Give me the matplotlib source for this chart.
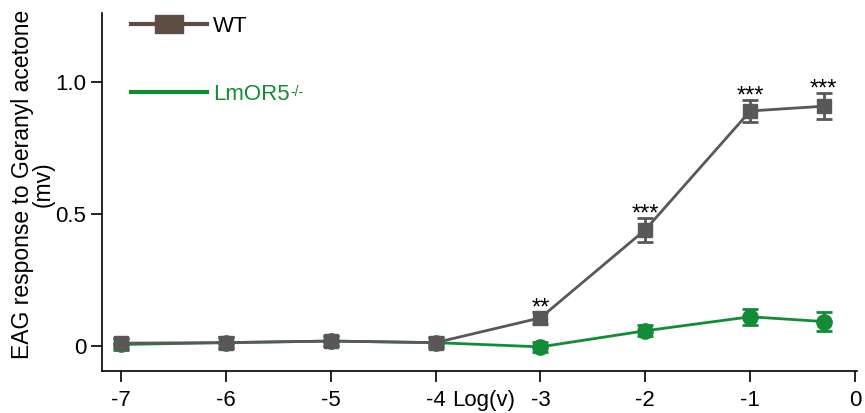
import matplotlib
matplotlib.use("Agg")
import matplotlib.pyplot as plt
from matplotlib.lines import Line2D
from matplotlib.path import Path
import numpy as np

plt.rcParams['font.family'] = ['Liberation Sans', 'DejaVu Sans']

# dose (log concentration) and EAG responses
dose = [-7, -6, -5, -4, -3, -2, -1, -0.3]
wt_mean = [0.010, 0.012, 0.018, 0.012, 0.106, 0.440, 0.890, 0.908]
wt_err = [0.020, 0.020, 0.018, 0.020, 0.022, 0.045, 0.042, 0.050]
ko_mean = [0.005, 0.012, 0.018, 0.012, -0.004, 0.057, 0.110, 0.092]
ko_err = [0.020, 0.020, 0.018, 0.018, 0.018, 0.020, 0.030, 0.035]
stars = ['', '', '', '', '**', '***', '***', '***']

x_ticks = [-7, -6, -5, -4, -3, -2, -1, 0]
y_ticks = [0, 0.5, 1.0]
y_ticklabels = ['0', '0.5', '1.0']

gray = '#595757'
brown = '#5e4d42'
green = '#138b37'

fig = plt.figure(figsize=(8.65, 4.13), dpi=100)
ax = fig.add_axes([0.118, 0.102, 0.873, 0.867])

ax.errorbar(dose, wt_mean, yerr=wt_err, color=gray, marker='s', markersize=10,
            lw=2, elinewidth=2, capsize=6, capthick=2, zorder=3)
ax.errorbar(dose, ko_mean, yerr=ko_err, color=green, marker='o', markersize=11,
            lw=2, elinewidth=2, capsize=6, capthick=2, zorder=2)

for x, m, e, s in zip(dose, wt_mean, wt_err, stars):
    if s:
        ax.text(x, m + e - 0.03, s, ha='center', va='bottom', fontsize=17)

ax.set_xlim(-7.18, 0.02)
ax.set_ylim(-0.095, 1.262)
ax.set_xticks(x_ticks)
ax.set_xticklabels([str(t) for t in x_ticks])
ax.set_yticks(y_ticks)
ax.set_yticklabels(y_ticklabels)
ax.tick_params(labelsize=16, length=8, width=1.2, direction='out')
ax.tick_params(axis='x', pad=6)
for sp in ['top', 'right']:
    ax.spines[sp].set_visible(False)
for sp in ['left', 'bottom']:
    ax.spines[sp].set_linewidth(1.2)

ax.set_ylabel('EAG response to Geranyl acetone\n(mv)', fontsize=16.5, linespacing=0.88)
ax.yaxis.set_label_coords(-0.063, 0.52)
ax.text(-3.54, -0.209, 'Log(v)', ha='center', va='center', fontsize=16)

# legend with a wide box marker for WT
box = Path([(-1.6, -1), (1.6, -1), (1.6, 1), (-1.6, 1), (-1.6, -1)])
handles = [Line2D([], [], color=brown, lw=3, marker=box, markersize=20),
           Line2D([], [], color=green, lw=3)]
leg = ax.legend(handles, ['WT', 'LmOR5'], loc='upper left',
                bbox_to_anchor=(0.012, 1.047), frameon=False, fontsize=16,
                handlelength=3.4, handletextpad=0.3, labelspacing=2.1)
leg.get_texts()[1].set_color(green)

# superscript genotype mark after the mutant label
fig.canvas.draw()
bb = leg.get_texts()[1].get_window_extent()
fig.text(bb.x1 / fig.dpi / 8.65 + 0.001, bb.y1 / fig.dpi / 4.13 - 0.003, '-/-',
         color=green, fontsize=10, ha='left', va='top')

fig.savefig('out.png', dpi=100)
